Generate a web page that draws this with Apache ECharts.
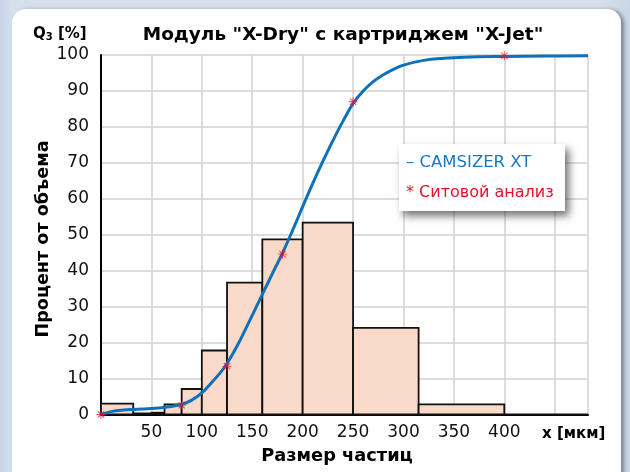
<!DOCTYPE html>
<html><head><meta charset="utf-8">
<script src="https://cdn.jsdelivr.net/npm/echarts@6/dist/echarts.min.js"></script>
<style>
html,body{margin:0;padding:0;}
#wrap{position:relative;width:630px;height:472px;overflow:hidden;background:linear-gradient(90deg,#c4d3e6 0px,#d6e0ec 12px,#d6e0ec 600px,#c9d6e6 630px);}
#panel{position:absolute;left:12px;top:9px;width:609px;height:480px;background:#fff;border-radius:14px;box-shadow:3px 1px 4px rgba(60,60,70,0.55);}
#chart{position:absolute;left:0;top:0;width:630px;height:472px;}
</style></head>
<body><div id="wrap"><div id="panel"></div><div id="chart"></div></div>
<script>
// Histogram classes (sieve intervals, µm) and heights (%)
const binStart = [0, 32, 50, 63, 80, 100, 125, 160, 200, 250, 315, 400];
const binEnd   = [32, 50, 63, 80, 100, 125, 160, 200, 250, 315, 400, 483];
const binValue = [3.0, 0.3, 0.5, 2.8, 7.1, 17.8, 36.7, 48.7, 53.4, 24.1, 2.8, 0];
// CAMSIZER XT cumulative curve
const camX = [0, 10, 20, 40, 60, 80, 90, 100, 110, 118, 125, 132, 140, 150, 160, 170, 180, 190, 200, 210, 220, 230, 240, 250, 260, 270, 280, 290, 300, 320, 340, 360, 400, 440, 483];
const camY = [0, 0.8, 1.2, 1.5, 1.9, 2.8, 4.0, 6.0, 9.0, 11.5, 14.2, 17.5, 21.8, 27.6, 33.4, 39.2, 44.9, 51.2, 57.8, 64.3, 70.4, 76.2, 81.6, 86.5, 90.0, 92.6, 94.5, 96.0, 97.2, 98.5, 99.1, 99.4, 99.6, 99.7, 99.8];
// Sieve analysis points
const sieveX = [0, 80, 125, 180, 250, 400];
const sieveY = [0, 2.6, 13.4, 44.6, 87.0, 99.8];
const xTicks = [50, 100, 150, 200, 250, 300, 350, 400];

const histData = binStart.map((s, i) => [s, binEnd[i], binValue[i]]);
const camData = camX.map((x, i) => [x, camY[i]]);
const sieveData = sieveX.map((x, i) => [x, sieveY[i]]);

const star = 'path://M-1,-10L1,-10L1,10L-1,10Z M-10,-1L10,-1L10,1L-10,1Z M-6.36,-7.78L7.78,6.36L6.36,7.78L-7.78,-6.36Z M7.78,-6.36L-6.36,7.78L-7.78,6.36L6.36,-7.78Z';
const FONT = 'DejaVu Sans';

const chart = echarts.init(document.getElementById('chart'), null, {renderer: 'canvas'});
chart.setOption({
  backgroundColor: 'transparent',
  animation: false,
  textStyle: {fontFamily: FONT},
  grid: {left: 101, right: 42, top: 55, bottom: 57.5},
  xAxis: {
    type: 'value', min: 0, max: 483, interval: 50,
    axisLine: {show: true, onZero: false, lineStyle: {color: '#000', width: 2}},
    axisTick: {show: false},
    splitLine: {show: true, lineStyle: {color: '#d2d2d2', width: 1.5}},
    axisLabel: {fontSize: 17, color: '#111', margin: 10, fontFamily: FONT,
      formatter: v => xTicks.indexOf(v) >= 0 ? String(v) : ''}
  },
  yAxis: {
    type: 'value', min: 0, max: 100, interval: 10,
    axisLine: {show: true, lineStyle: {color: '#000', width: 2}},
    axisTick: {show: false},
    splitLine: {show: true, lineStyle: {color: '#d2d2d2', width: 1.5}},
    axisLabel: {fontSize: 17, color: '#111', margin: 12, fontFamily: FONT}
  },
  graphic: [
    {type: 'text', x: 343, y: 35, style: {text: 'Модуль "X-Dry" с картриджем "X-Jet"', font: 'bold 18.5px "DejaVu Sans"', fill: '#000', textAlign: 'center', textVerticalAlign: 'middle'}},
    {type: 'text', x: 33, y: 34, style: {text: '{a|Q}{b|3}{a| [%]}', textVerticalAlign: 'middle', fill: '#000',
      rich: {a: {font: 'bold 15px "DejaVu Sans"', fill: '#000'}, b: {font: 'bold 10px "DejaVu Sans"', fill: '#000', padding: [6, 0, 0, 0]}}}},
    {type: 'text', x: 542, y: 434, style: {text: 'x [мкм]', font: 'bold 15px "DejaVu Sans"', fill: '#000', textVerticalAlign: 'middle'}},
    {type: 'text', x: 337, y: 456, style: {text: 'Размер частиц', font: 'bold 17.8px "DejaVu Sans"', fill: '#000', textAlign: 'center', textVerticalAlign: 'middle'}},
    {type: 'text', x: 43, y: 239, rotation: Math.PI / 2, style: {text: 'Процент от объема', font: 'bold 17.6px "DejaVu Sans"', fill: '#000', textAlign: 'center', textVerticalAlign: 'middle'}},
    {type: 'rect', shape: {x: 399, y: 144, width: 166, height: 67}, style: {fill: '#fff', shadowBlur: 8, shadowOffsetX: 4, shadowOffsetY: 5, shadowColor: 'rgba(0,0,0,0.55)'}, z: 10},
    {type: 'text', x: 406, y: 163, style: {text: '– CAMSIZER XT', font: '16.5px "DejaVu Sans"', fill: '#1a78c2', textVerticalAlign: 'middle'}, z: 11},
    {type: 'text', x: 406, y: 193, style: {text: '* Ситовой анализ', font: '16px "DejaVu Sans"', fill: '#e4102c', textVerticalAlign: 'middle'}, z: 11}
  ],
  series: [
    {
      type: 'custom', data: histData, encode: {x: [0, 1], y: 2}, z: 2,
      renderItem: (params, api) => {
        const p0 = api.coord([api.value(0), api.value(2)]);
        const p1 = api.coord([api.value(1), 0]);
        return {type: 'rect', shape: {x: p0[0], y: p0[1], width: p1[0] - p0[0], height: p1[1] - p0[1]},
          style: {fill: '#f9d9c8', stroke: '#111', lineWidth: 1.8}};
      }
    },
    {
      type: 'line', data: camData, smooth: 0.4, showSymbol: false, z: 4,
      lineStyle: {color: '#1070b8', width: 3}
    },
    {
      type: 'scatter', data: sieveData, symbol: star, symbolSize: 9, clip: false, z: 5,
      itemStyle: {color: '#e4102c'}
    }
  ]
});
</script></body></html>
